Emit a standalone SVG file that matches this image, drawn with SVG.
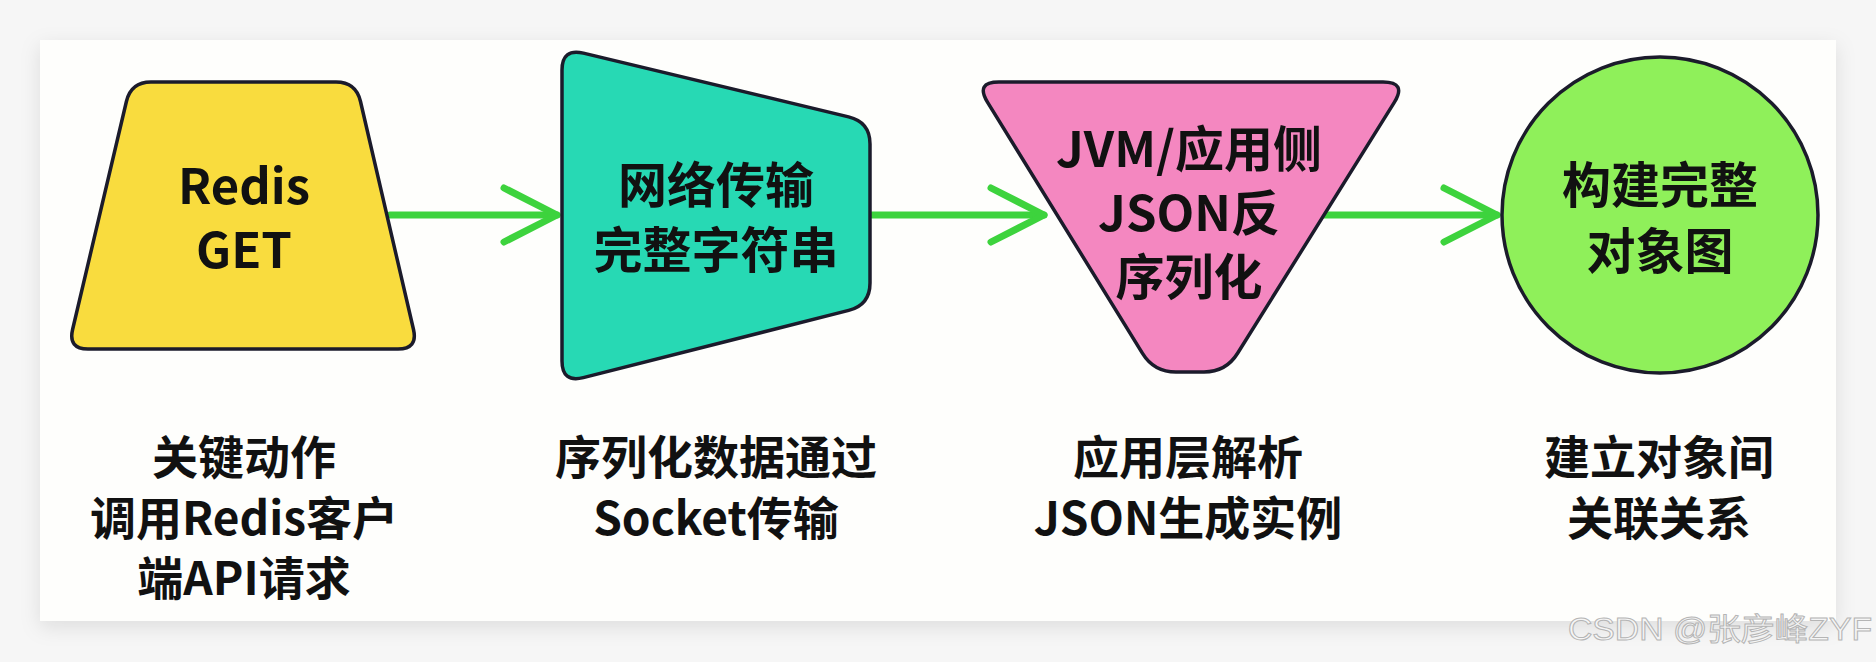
<svg xmlns="http://www.w3.org/2000/svg" width="1876" height="662" viewBox="0 0 1876 662">
  <defs>
    <filter id="cardShadow" x="-5%" y="-10%" width="110%" height="125%">
      <feDropShadow dx="0" dy="6" stdDeviation="10" flood-color="#000" flood-opacity="0.10"/>
    </filter>
    <marker id="chev" markerUnits="userSpaceOnUse" markerWidth="80" markerHeight="80" viewBox="-65 -40 80 80" refX="0" refY="0" orient="auto" overflow="visible">
      <path d="M-53,-27 L0,0 L-53,27" fill="none" stroke="#3dd33d" stroke-width="7" stroke-linecap="round" stroke-linejoin="round"/>
    </marker>
  </defs>
  <style>
    .shape { stroke: #1b1b2b; stroke-width: 3.5; stroke-linejoin: round; }
    .ntext { font-family: "Noto Sans CJK SC", "Noto Sans", sans-serif; font-weight: 700; font-size: 49px; fill: #111; text-anchor: middle; }
    .ltext { font-family: "Noto Sans CJK SC", "Noto Sans", sans-serif; font-weight: 700; font-size: 46px; fill: #111; text-anchor: middle; }
    .conn { stroke: #3dd33d; stroke-width: 7; stroke-linecap: round; fill: none; }
    .wm { font-family: "Liberation Sans", "Noto Sans CJK SC", sans-serif; font-size: 31px; fill: #f6f6f6; stroke: #b5b5b5; stroke-width: 1; }
  </style>

  <rect x="0" y="0" width="1876" height="662" fill="#f6f6f6"/>
  <rect x="40" y="40" width="1796" height="581" fill="#fefefc" filter="url(#cardShadow)"/>

  <g id="connectors">
    <line class="conn" x1="390" y1="215" x2="557" y2="215" marker-end="url(#chev)"/>
    <line class="conn" x1="872" y1="215" x2="1044" y2="215" marker-end="url(#chev)"/>
    <line class="conn" x1="1324" y1="215" x2="1497" y2="215" marker-end="url(#chev)"/>
  </g>

  <g id="node-redis-get">
    <path class="shape" fill="#f9dc3e" d="M151,82 L336,82 Q356,82 360.5,101.5 L413.5,329.5 Q418,349 398,349 L88,349 Q68,349 72.6,329.5 L126.4,101.5 Q131,82 151,82 Z"/>
    <text class="ntext"><tspan x="244" y="204">Redis</tspan><tspan x="244" y="268">GET</tspan></text>
  </g>

  <g id="node-network">
    <path class="shape" fill="#27d9b4" d="M583.4,53.1 L848.6,116.9 Q870,122 870,144 L870,283 Q870,305 848.7,310.4 L583.3,377.6 Q562,383 562,361 L562,70 Q562,48 583.4,53.1 Z"/>
    <text class="ntext"><tspan x="716" y="203">网络传输</tspan><tspan x="716" y="268">完整字符串</tspan></text>
  </g>

  <g id="node-json">
    <path class="shape" fill="#f487c0" d="M999,82 L1383,82 Q1407,82 1394.3,102.4 L1237.6,353.3 Q1226,372 1204,372 L1176,372 Q1154,372 1142.5,353.3 L987.6,102.4 Q975,82 999,82 Z"/>
    <text class="ntext"><tspan x="1189" y="167">JVM/应用侧</tspan><tspan x="1189" y="231">JSON反</tspan><tspan x="1189" y="295">序列化</tspan></text>
  </g>

  <g id="node-object-graph">
    <circle class="shape" fill="#8ff05a" cx="1660" cy="215" r="158"/>
    <text class="ntext"><tspan x="1660" y="203">构建完整</tspan><tspan x="1660" y="269">对象图</tspan></text>
  </g>

  <g id="label-1">
    <text class="ltext"><tspan x="244" y="474">关键动作</tspan><tspan x="244" y="535">调用Redis客户</tspan><tspan x="244" y="595">端API请求</tspan></text>
  </g>
  <g id="label-2">
    <text class="ltext"><tspan x="716" y="474">序列化数据通过</tspan><tspan x="716" y="535">Socket传输</tspan></text>
  </g>
  <g id="label-3">
    <text class="ltext"><tspan x="1188" y="474">应用层解析</tspan><tspan x="1188" y="535">JSON生成实例</tspan></text>
  </g>
  <g id="label-4">
    <text class="ltext"><tspan x="1659" y="474">建立对象间</tspan><tspan x="1659" y="535">关联关系</tspan></text>
  </g>

  <text class="wm" x="1568" y="640" textLength="304" lengthAdjust="spacingAndGlyphs">CSDN @张彦峰ZYF</text>
</svg>
